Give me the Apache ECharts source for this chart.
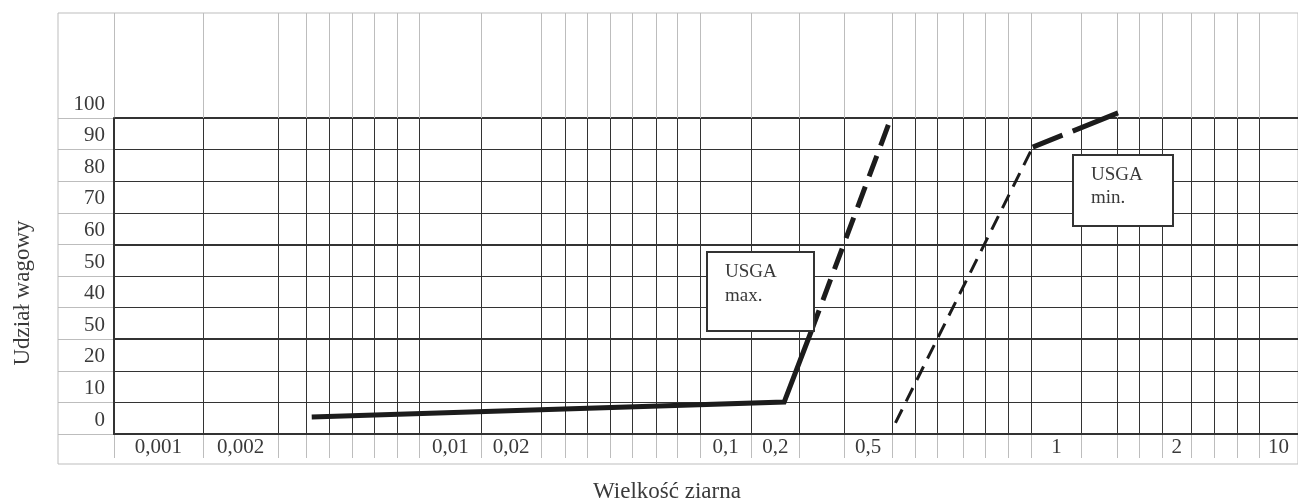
<!DOCTYPE html>
<html>
<head>
<meta charset="utf-8">
<script src="https://cdn.jsdelivr.net/npm/echarts@6.0.0/dist/echarts.min.js"></script>
<style>
html,body{margin:0;padding:0;background:#ffffff;}
#chart{width:1298px;height:504px;}
</style>
</head>
<body>
<div id="chart"></div>
<script>
// ---- data (x in % of the grid width, y in %) ----
const xColumnEdges = [7.5, 13.9, 16.2, 18.2, 20.1, 22.0, 23.9, 25.8, 31.0, 36.1, 38.1, 40.0, 41.9, 43.8, 45.8, 47.6, 49.5, 53.8, 57.9, 61.7, 65.7, 67.7, 69.5, 71.7, 73.6, 75.5, 77.5, 81.7, 84.7, 86.6, 88.5, 91.0, 92.9, 94.9, 96.7];
const xTickLabels = ['0,001', '0,002', '0,01', '0,02', '0,1', '0,2', '0,5', '1', '2', '10'];
const xTickCells = [0, 1, 8, 9, 17, 18, 20, 27, 31, 35];
const yTickLabels = ['0', '10', '20', '50', '40', '50', '60', '70', '80', '90', '100'];

const maxSolidX = [16.7, 56.6, 58.9];
const maxSolidY = [5.4, 10.1, 32.6];
const maxDashX = [58.9, 65.4];
const maxDashY = [32.6, 97.8];
const minThinX = [66.0, 77.6];
const minThinY = [3.5, 90.8];
const minThickX = [77.6, 84.8];
const minThickY = [90.8, 101.6];

const boxMaxText = 'USGA\nmax.';
const boxMinText = 'USGA\nmin.';
const yTitle = 'Udział wagowy';
const xTitle = 'Wielkość ziarna';

// ---- styling ----
const FONT = '"Liberation Serif", "DejaVu Serif", "Times New Roman", serif';
const DARK = '#333333';
const LIGHT = '#bdbdbd';
const TEXT = '#3a3a3a';
const LINE = '#1c1c1c';

const allEdges = [0].concat(xColumnEdges, [100]);
const cellCenters = xTickCells.map(i => (allEdges[i] + allEdges[i + 1]) / 2);
const pairs = (xs, ys) => xs.map((x, i) => [x, ys[i]]);

const chart = echarts.init(document.getElementById('chart'), null, {renderer: 'canvas'});

const hiddenAxis = (g) => ({gridIndex: g, type: 'value', show: false});

const option = {
  animation: false,
  grid: [
    {left: 114, top: 118, width: 1184, height: 316},
    {left: 114, top: 13, width: 1184, height: 105},
    {left: 114, top: 434, width: 1184, height: 30},
    {left: 58, top: 118, width: 56, height: 316},
    {left: 58, top: 13, width: 1240, height: 451, show: true, borderColor: LIGHT, borderWidth: 1, backgroundColor: 'transparent'}
  ],
  xAxis: [
    {
      gridIndex: 0, type: 'value', min: 0, max: 100, position: 'bottom',
      axisLine: {show: true, onZero: false, lineStyle: {color: DARK, width: 2}},
      axisTick: {show: false, customValues: xColumnEdges},
      axisLabel: {show: false},
      splitLine: {show: true, lineStyle: {color: DARK, width: 1}}
    },
    {
      gridIndex: 1, type: 'value', min: 0, max: 100,
      axisLine: {show: false},
      axisTick: {show: false, customValues: allEdges.slice(0, -1)},
      axisLabel: {show: false},
      splitLine: {show: true, lineStyle: {color: LIGHT, width: 1}}
    },
    {
      gridIndex: 2, type: 'value', min: 0, max: 100, position: 'bottom',
      axisLine: {show: false},
      axisTick: {show: false, customValues: allEdges.slice(0, -1)},
      axisLabel: {
        show: true, inside: true, margin: -4,
        customValues: cellCenters,
        fontSize: 21, fontFamily: FONT, color: TEXT, lineHeight: 30, verticalAlign: 'bottom',
        formatter: function (v) {
          let best = 0;
          cellCenters.forEach((c, i) => { if (Math.abs(c - v) < Math.abs(cellCenters[best] - v)) best = i; });
          return xTickLabels[best];
        }
      },
      splitLine: {show: true, lineStyle: {color: LIGHT, width: 1}},
      name: xTitle, nameLocation: 'middle', nameGap: 22,
      nameTextStyle: {fontSize: 23, fontFamily: FONT, color: TEXT, padding: [0, 78, 0, 0]}
    },
    hiddenAxis(3),
    hiddenAxis(4)
  ],
  yAxis: [
    {
      gridIndex: 0, type: 'value', min: 0, max: 100, interval: 10,
      axisLine: {show: true, onZero: false, lineStyle: {color: DARK, width: 2}},
      axisTick: {show: false},
      axisLabel: {
        show: true, margin: 9, fontSize: 21, fontFamily: FONT, color: TEXT,
        verticalAlign: 'bottom', lineHeight: 28,
        showMinLabel: true, showMaxLabel: true, hideOverlap: false,
        formatter: v => yTickLabels[Math.round(v / 10)]
      },
      splitLine: {show: true, lineStyle: {color: DARK, width: 1}},
      name: yTitle, nameLocation: 'middle', nameGap: 80,
      nameTextStyle: {fontSize: 23, fontFamily: FONT, color: TEXT, padding: [0, 34, 0, 0]}
    },
    {
      gridIndex: 0, type: 'value', min: 0, max: 100, position: 'left',
      axisLine: {show: false},
      axisTick: {show: false, customValues: [30, 60, 100]},
      axisLabel: {show: false},
      splitLine: {show: true, lineStyle: {color: DARK, width: 2}}
    },
    hiddenAxis(1),
    hiddenAxis(2),
    {
      gridIndex: 3, type: 'value', min: 0, max: 100, interval: 10,
      axisLine: {show: false}, axisTick: {show: false}, axisLabel: {show: false},
      splitLine: {show: true, lineStyle: {color: LIGHT, width: 1}}
    },
    hiddenAxis(4)
  ],
  series: [
    {
      type: 'line', name: 'USGA max.', xAxisIndex: 0, yAxisIndex: 0,
      data: pairs(maxSolidX, maxSolidY), symbol: 'none', clip: false, z: 10, silent: true,
      lineStyle: {color: LINE, width: 5, type: 'solid', join: 'miter', cap: 'butt'}
    },
    {
      type: 'line', name: 'USGA max. (dashed)', xAxisIndex: 0, yAxisIndex: 0,
      data: pairs(maxDashX, maxDashY), symbol: 'none', clip: false, z: 10, silent: true,
      lineStyle: {color: LINE, width: 5, type: [22, 11], cap: 'butt'}
    },
    {
      type: 'line', name: 'USGA min.', xAxisIndex: 0, yAxisIndex: 0,
      data: pairs(minThinX, minThinY), symbol: 'none', clip: false, z: 10, silent: true,
      lineStyle: {color: LINE, width: 3, type: [15, 9], cap: 'butt'}
    },
    {
      type: 'line', name: 'USGA min. (upper)', xAxisIndex: 0, yAxisIndex: 0,
      data: pairs(minThickX, minThickY), symbol: 'none', clip: false, z: 10, silent: true,
      lineStyle: {color: LINE, width: 5, type: [32, 11, 60, 10], cap: 'butt'}
    }
  ],
  graphic: [
    {type: 'rect', z: 100, shape: {x: 707, y: 252, width: 107, height: 79},
     style: {fill: '#ffffff', stroke: DARK, lineWidth: 2}},
    {type: 'text', z: 101, x: 725, y: 260,
     style: {text: boxMaxText, fontSize: 19, fontFamily: FONT, fill: TEXT, lineHeight: 24, verticalAlign: 'top'}},
    {type: 'rect', z: 100, shape: {x: 1073, y: 155, width: 100, height: 71},
     style: {fill: '#ffffff', stroke: DARK, lineWidth: 2}},
    {type: 'text', z: 101, x: 1091, y: 164,
     style: {text: boxMinText, fontSize: 19, fontFamily: FONT, fill: TEXT, lineHeight: 23, verticalAlign: 'top'}}
  ]
};

chart.setOption(option);
</script>
</body>
</html>
